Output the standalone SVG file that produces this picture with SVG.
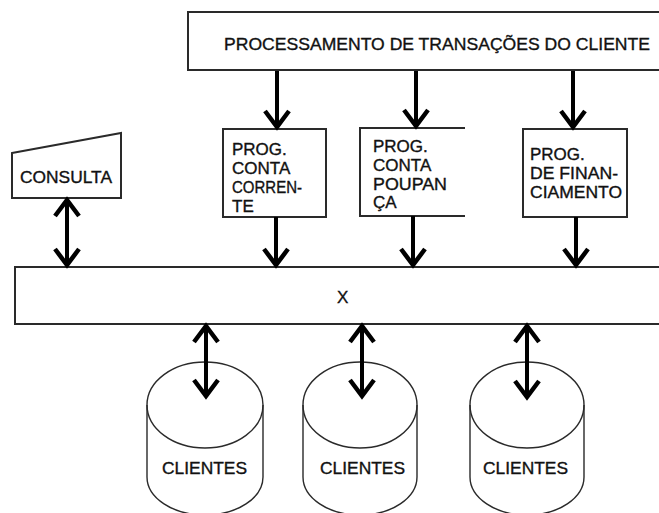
<svg xmlns="http://www.w3.org/2000/svg" width="659" height="513" viewBox="0 0 659 513">
<defs>
<style>
.box{fill:none;stroke:#2a2a2a;stroke-width:2}
.cyl{fill:none;stroke:#2a2a2a;stroke-width:1.4}
.t{font-family:"Liberation Sans",Arial,sans-serif;font-size:17px;fill:#111;stroke:#111;stroke-width:0.35}
.arr{fill:none;stroke:#000;stroke-width:4;marker-end:url(#ah)}
.dbl{fill:none;stroke:#000;stroke-width:4;marker-end:url(#ah);marker-start:url(#ah)}
</style>
<marker id="ah" viewBox="-22 -15 26 30" refX="0" refY="0" markerWidth="26" markerHeight="30" markerUnits="userSpaceOnUse" orient="auto-start-reverse">
<path d="M-17,-12 L-1,0 L-17,12" fill="none" stroke="#000" stroke-width="4.5" stroke-linejoin="miter"/>
</marker>
</defs>
<rect width="659" height="513" fill="#fff"/>
<g id="processamento">
<path class="box" d="M660,12 H188 V70 H660"/>
<text class="t" x="224" y="50" textLength="426" lengthAdjust="spacingAndGlyphs">PROCESSAMENTO DE TRANSAÇÕES DO CLIENTE</text>
</g>
<g id="consulta">
<path class="box" d="M12,153 L121,133 L121,198 L12,198 Z"/>
<text class="t" x="20" y="183" textLength="92" lengthAdjust="spacingAndGlyphs">CONSULTA</text>
</g>
<g id="prog-cc">
<rect class="box" x="223" y="129" width="103" height="88"/>
<text class="t" x="232" y="155">PROG.</text>
<text class="t" x="232" y="174">CONTA</text>
<text class="t" x="232" y="193" textLength="70" lengthAdjust="spacingAndGlyphs">CORREN-</text>
<text class="t" x="232" y="212">TE</text>
</g>
<g id="prog-cp">
<path class="box" d="M465,128 H360 V216 H465"/>
<text class="t" x="373" y="152">PROG.</text>
<text class="t" x="373" y="171">CONTA</text>
<text class="t" x="373" y="190" textLength="74" lengthAdjust="spacingAndGlyphs">POUPAN</text>
<text class="t" x="373" y="208">ÇA</text>
</g>
<g id="prog-fin">
<rect class="box" x="523" y="129" width="104" height="88"/>
<text class="t" x="530" y="160">PROG.</text>
<text class="t" x="530" y="179" textLength="88" lengthAdjust="spacingAndGlyphs">DE FINAN-</text>
<text class="t" x="530" y="198" textLength="92" lengthAdjust="spacingAndGlyphs">CIAMENTO</text>
</g>
<g id="x">
<path class="box" d="M660,267 H15 V324 H660"/>
<text class="t" x="337" y="303">X</text>
</g>
<g id="clientes1">
<ellipse class="cyl" cx="205" cy="405" rx="58" ry="43"/>
<path class="cyl" d="M147,405 V477 A58,38 0 0 0 263,477 V405"/>
<text class="t" x="162" y="474" textLength="85" lengthAdjust="spacingAndGlyphs">CLIENTES</text>
</g>
<g id="clientes2">
<ellipse class="cyl" cx="360" cy="405" rx="57" ry="43"/>
<path class="cyl" d="M303,405 V477 A57,38 0 0 0 417,477 V405"/>
<text class="t" x="320" y="474" textLength="85" lengthAdjust="spacingAndGlyphs">CLIENTES</text>
</g>
<g id="clientes3">
<ellipse class="cyl" cx="527" cy="405" rx="57" ry="43"/>
<path class="cyl" d="M470,405 V477 A57,38 0 0 0 584,477 V405"/>
<text class="t" x="483" y="474" textLength="85" lengthAdjust="spacingAndGlyphs">CLIENTES</text>
</g>
<g id="connectors">
<path class="arr" d="M277,71 V128"/>
<path class="arr" d="M416,71 V127"/>
<path class="arr" d="M573,71 V128"/>
<path class="arr" d="M276,217 V266"/>
<path class="arr" d="M413,216 V266"/>
<path class="arr" d="M576,217 V266"/>
<path class="dbl" d="M67,199 V266"/>
<path class="dbl" d="M206,325 V397"/>
<path class="dbl" d="M362,325 V397"/>
<path class="dbl" d="M527,325 V398"/>
</g>
</svg>
